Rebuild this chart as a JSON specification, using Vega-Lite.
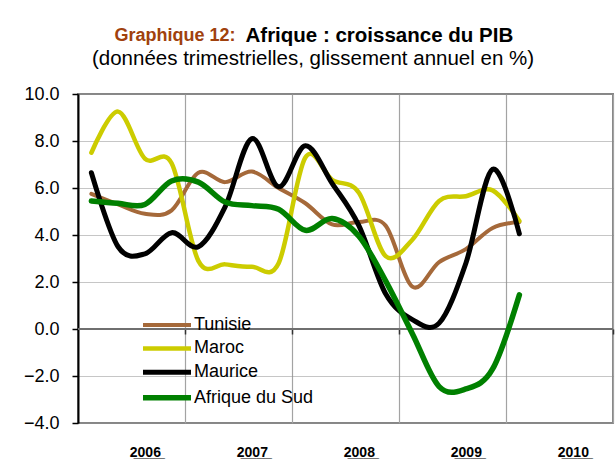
{
  "$schema": "https://vega.github.io/schema/vega-lite/v6.json",
  "width": 535,
  "height": 329,
  "autosize": {"type": "none"},
  "padding": {"left": 78, "top": 94, "right": 2, "bottom": 44},
  "background": "#ffffff",
  "config": {
    "font": "Liberation Sans",
    "view": {"stroke": "#868686", "strokeWidth": 2},
    "axis": {"labelFont": "Liberation Sans", "titleFont": "Liberation Sans"}
  },
  "data": {"values": [
    {"t": 0.5, "pays": "Tunisie", "v": 5.75}, {"t": 1.5, "pays": "Tunisie", "v": 5.3}, {"t": 2.5, "pays": "Tunisie", "v": 4.9}, {"t": 3.5, "pays": "Tunisie", "v": 5.05},
    {"t": 4.5, "pays": "Tunisie", "v": 6.65}, {"t": 5.5, "pays": "Tunisie", "v": 6.25}, {"t": 6.5, "pays": "Tunisie", "v": 6.7}, {"t": 7.5, "pays": "Tunisie", "v": 6.0},
    {"t": 8.5, "pays": "Tunisie", "v": 5.35}, {"t": 9.5, "pays": "Tunisie", "v": 4.45}, {"t": 10.5, "pays": "Tunisie", "v": 4.55}, {"t": 11.5, "pays": "Tunisie", "v": 4.4},
    {"t": 12.5, "pays": "Tunisie", "v": 1.8}, {"t": 13.5, "pays": "Tunisie", "v": 2.85}, {"t": 14.5, "pays": "Tunisie", "v": 3.4}, {"t": 15.5, "pays": "Tunisie", "v": 4.3},
    {"t": 16.5, "pays": "Tunisie", "v": 4.55},
    {"t": 0.5, "pays": "Maroc", "v": 7.5}, {"t": 1.5, "pays": "Maroc", "v": 9.25}, {"t": 2.5, "pays": "Maroc", "v": 7.25}, {"t": 3.5, "pays": "Maroc", "v": 7.05},
    {"t": 4.5, "pays": "Maroc", "v": 2.9}, {"t": 5.5, "pays": "Maroc", "v": 2.75}, {"t": 6.5, "pays": "Maroc", "v": 2.65}, {"t": 7.5, "pays": "Maroc", "v": 2.8},
    {"t": 8.5, "pays": "Maroc", "v": 7.3}, {"t": 9.5, "pays": "Maroc", "v": 6.35}, {"t": 10.5, "pays": "Maroc", "v": 5.8}, {"t": 11.5, "pays": "Maroc", "v": 3.1},
    {"t": 12.5, "pays": "Maroc", "v": 3.8}, {"t": 13.5, "pays": "Maroc", "v": 5.45}, {"t": 14.5, "pays": "Maroc", "v": 5.65}, {"t": 15.5, "pays": "Maroc", "v": 5.9},
    {"t": 16.5, "pays": "Maroc", "v": 4.6},
    {"t": 0.5, "pays": "Maurice", "v": 6.65}, {"t": 1.5, "pays": "Maurice", "v": 3.5}, {"t": 2.5, "pays": "Maurice", "v": 3.2}, {"t": 3.5, "pays": "Maurice", "v": 4.1},
    {"t": 4.5, "pays": "Maurice", "v": 3.5}, {"t": 5.5, "pays": "Maurice", "v": 5.2}, {"t": 6.5, "pays": "Maurice", "v": 8.1}, {"t": 7.5, "pays": "Maurice", "v": 6.05},
    {"t": 8.5, "pays": "Maurice", "v": 7.8}, {"t": 9.5, "pays": "Maurice", "v": 6.2}, {"t": 10.5, "pays": "Maurice", "v": 4.4}, {"t": 11.5, "pays": "Maurice", "v": 1.5},
    {"t": 12.5, "pays": "Maurice", "v": 0.4}, {"t": 13.5, "pays": "Maurice", "v": 0.25}, {"t": 14.5, "pays": "Maurice", "v": 2.8}, {"t": 15.5, "pays": "Maurice", "v": 6.8},
    {"t": 16.5, "pays": "Maurice", "v": 4.05},
    {"t": 0.5, "pays": "Afrique du Sud", "v": 5.45}, {"t": 1.5, "pays": "Afrique du Sud", "v": 5.35}, {"t": 2.5, "pays": "Afrique du Sud", "v": 5.3}, {"t": 3.5, "pays": "Afrique du Sud", "v": 6.3},
    {"t": 4.5, "pays": "Afrique du Sud", "v": 6.25}, {"t": 5.5, "pays": "Afrique du Sud", "v": 5.4}, {"t": 6.5, "pays": "Afrique du Sud", "v": 5.25}, {"t": 7.5, "pays": "Afrique du Sud", "v": 5.1},
    {"t": 8.5, "pays": "Afrique du Sud", "v": 4.2}, {"t": 9.5, "pays": "Afrique du Sud", "v": 4.7}, {"t": 10.5, "pays": "Afrique du Sud", "v": 3.95}, {"t": 11.5, "pays": "Afrique du Sud", "v": 2.05},
    {"t": 12.5, "pays": "Afrique du Sud", "v": -0.2}, {"t": 13.5, "pays": "Afrique du Sud", "v": -2.45}, {"t": 14.5, "pays": "Afrique du Sud", "v": -2.55}, {"t": 15.5, "pays": "Afrique du Sud", "v": -1.7},
    {"t": 16.5, "pays": "Afrique du Sud", "v": 1.45}
  ]},
  "resolve": {"axis": {"x": "independent"}},
  "layer": [
    {
      "mark": {"type": "rule", "color": "#6f6f6f", "strokeWidth": 2},
      "encoding": {
        "x": {"datum": 0, "type": "quantitative", "scale": {"domain": [0, 20], "nice": false, "zero": false},
          "axis": {"orient": "bottom", "offset": -94, "values": [4, 8, 12, 16, 20], "labels": false, "domain": false,
            "ticks": true, "tickSize": 5, "tickColor": "#333333", "tickWidth": 1.5,
            "grid": true, "gridColor": "#a3a3a3", "gridWidth": 1.2,
            "title": "Afrique : croissance du PIB", "titleX": 167, "titleY": -288, "titleAlign": "left", "titleBaseline": "alphabetic",
            "titleFontSize": 20.5, "titleFontWeight": "bold", "titleColor": "#000000", "titleAngle": 0}},
        "x2": {"datum": 20},
        "y": {"datum": 0, "type": "quantitative",
          "axis": {"values": [-4, -2, 0, 2, 4, 6, 8, 10], "format": ".1f", "labelFontSize": 18, "labelColor": "#000000", "labelPadding": 13,
            "domainColor": "#000000", "domainWidth": 2, "tickColor": "#000000", "tickWidth": 1.5, "tickSize": 6,
            "grid": true, "gridColor": "#8c8c8c", "gridDash": [1, 1], "gridWidth": 1,
            "title": "(données trimestrielles, glissement annuel en %)", "titleAngle": 0, "titleX": 234.5, "titleY": -30,
            "titleAlign": "center", "titleBaseline": "alphabetic", "titleFontSize": 20.5, "titleFontWeight": "normal", "titleColor": "#000000"}}
      }
    },
    {
      "mark": {"type": "line", "interpolate": "cardinal", "strokeCap": "round", "strokeJoin": "round"},
      "encoding": {
        "x": {"field": "t", "type": "quantitative", "scale": {"domain": [0, 20], "nice": false, "zero": false},
          "axis": {"orient": "bottom", "values": [2.5, 6.5, 10.5, 14.5, 18.5],
            "labelExpr": "['2\u03320\u03320\u03326\u0332','2\u03320\u03320\u03327\u0332','2\u03320\u03320\u03328\u0332','2\u03320\u03320\u03329\u0332','2\u03320\u03321\u03320\u0332'][floor(datum.value / 4)]",
            "labelFontSize": 14, "labelFontWeight": "bold", "labelColor": "#000000", "labelPadding": 22,
            "ticks": false, "tickSize": 0, "domain": false, "grid": false,
            "title": "Graphique 12:", "titleX": 157, "titleY": -382.3, "titleAlign": "right", "titleBaseline": "alphabetic",
            "titleFontSize": 18, "titleFontWeight": "bold", "titleColor": "#A0410D", "titleAngle": 0}},
        "y": {"field": "v", "type": "quantitative", "scale": {"domain": [-4, 10], "nice": false, "zero": false}},
        "color": {"field": "pays", "type": "nominal",
          "scale": {"domain": ["Tunisie", "Maroc", "Maurice", "Afrique du Sud"], "range": ["#A5693A", "#CCCC00", "#000000", "#008000"]},
          "legend": {"title": null, "orient": "none", "legendX": 76, "legendY": 219, "padding": 0,
            "symbolType": "M-2.4,0H2.4", "symbolSize": 400, "symbolStrokeWidth": 5, "labelOffset": 14,
            "labelFontSize": 18, "labelColor": "#000000", "rowPadding": 1.9, "labelFont": "Liberation Sans"}},
        "strokeWidth": {"field": "pays", "type": "nominal",
          "scale": {"domain": ["Tunisie", "Maroc", "Maurice", "Afrique du Sud"], "range": [4, 5.5, 5, 4]}, "legend": null}
      }
    }
  ]
}
